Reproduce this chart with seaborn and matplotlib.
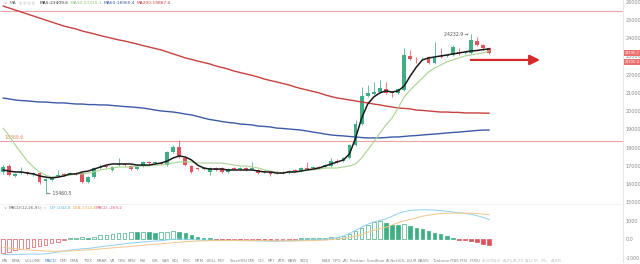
import numpy as np
import pandas as pd
import matplotlib
matplotlib.use("Agg")
import matplotlib.pyplot as plt
import matplotlib.transforms as mtransforms
import seaborn as sns

# ---------------- data ----------------
opens = [16660, 16990, 16440, 16600, 16660, 16550, 16600, 16160, 16220, 16440,
         16550, 16550, 16600, 16600, 16110, 16380, 16880, 16990, 16770, 17040,
         17100, 16990, 16820, 16990, 17210, 17150, 17150, 17040, 17760, 18030,
         17430, 16990, 16880, 16820, 16660, 16880, 16880, 16660, 16880, 16820,
         16880, 16820, 16770, 16710, 16660, 16600, 16660, 16600, 16770, 16710,
         16880, 16880, 16930, 16930, 16990, 17260, 17260, 17430, 18140, 19290,
         20830, 20940, 21050, 21220, 21050, 21000, 21160, 23030, 22920, 22890,
         22970, 22640, 23030, 23030, 23080, 23250, 23190, 23190, 23850, 23630,
         23470]
highs = [17040, 17100, 16600, 16930, 16710, 16660, 16660, 16330, 16440, 16770,
         16600, 16660, 16660, 16660, 16440, 16930, 17100, 17040, 16990, 17430,
         17150, 17040, 16990, 17260, 17260, 17260, 17210, 17810, 18140, 18416,
         17480, 17040, 16930, 16930, 16930, 16930, 16930, 16880, 16930, 16930,
         16930, 17210, 16820, 16770, 16710, 16710, 16710, 16770, 16820, 16930,
         17210, 16990, 16990, 17100, 17430, 17370, 17480, 18200, 19510, 21330,
         21440, 21600, 21710, 21600, 21110, 21270, 23470, 23360, 22970, 22970,
         23030, 23800, 23470, 23140, 23630, 23470, 23300, 24232.9, 24070, 23690,
         23520]
lows = [16550, 16440, 16380, 16550, 16490, 16440, 16000, 15460.5, 16160, 16380,
        16440, 16490, 16520, 16050, 16050, 16330, 16820, 16880, 16710, 16990,
        16990, 16770, 16770, 16930, 17100, 17100, 17040, 16990, 17700, 17430,
        16990, 16600, 16770, 16770, 16490, 16710, 16600, 16600, 16770, 16770,
        16710, 16770, 16550, 16600, 16440, 16550, 16550, 16550, 16660, 16660,
        16770, 16820, 16820, 16880, 16930, 17150, 17210, 17370, 18090, 19240,
        20780, 20890, 21000, 20940, 20780, 20940, 21110, 22810, 22640, 22860,
        22590, 22590, 22920, 22970, 23030, 23080, 23140, 23140, 23580, 23360,
        23140]
closes = [16930, 16490, 16550, 16660, 16600, 16600, 16110, 16270, 16380, 16490,
          16490, 16600, 16560, 16110, 16380, 16880, 16930, 16930, 16930, 17100,
          17040, 16820, 16930, 17210, 17150, 17210, 17100, 17760, 18030, 17480,
          17040, 16660, 16820, 16880, 16880, 16770, 16660, 16820, 16820, 16880,
          16770, 16880, 16600, 16660, 16550, 16660, 16600, 16710, 16710, 16880,
          16820, 16930, 16880, 17040, 17260, 17210, 17430, 18140, 19290, 20830,
          21000, 21050, 21270, 21000, 21000, 21220, 23080, 22860, 22890, 22920,
          22640, 22920, 22970, 23080, 23520, 23190, 23250, 23910, 23630, 23470,
          23190]

ma5 = [16770, 16710, 16660, 16660, 16600, 16550, 16440, 16380, 16330, 16380,
       16440, 16550, 16550, 16660, 16710, 16820, 16930, 17040, 17100, 17100,
       17100, 17100, 17040, 17040, 17040, 17100, 17150, 17260, 17430, 17540,
       17480, 17320, 17040, 16880, 16820, 16820, 16820, 16770, 16770, 16770,
       16770, 16770, 16710, 16660, 16660, 16600, 16600, 16660, 16660, 16710,
       16770, 16820, 16880, 16990, 17100, 17210, 17320, 17650, 18520, 19620,
       20390, 20780, 21000, 21110, 21050, 21110, 21380, 21930, 22420, 22810,
       22920, 22970, 23030, 23080, 23140, 23190, 23250, 23300, 23330, 23380,
       23409.6]
ma10 = [19070, 18640, 18140, 17700, 17260, 16930, 16660, 16490, 16380, 16380,
        16440, 16490, 16550, 16550, 16600, 16660, 16770, 16820, 16880, 16930,
        16930, 16930, 16990, 16990, 16990, 17040, 17040, 17100, 17150, 17210,
        17210, 17210, 17150, 17150, 17150, 17150, 17150, 17100, 17040, 16990,
        16990, 16930, 16880, 16770, 16710, 16660, 16600, 16660, 16660, 16710,
        16770, 16770, 16820, 16880, 16880, 16880, 16930, 16990, 17100, 17430,
        17870, 18310, 18800, 19240, 19620, 20170, 20780, 21160, 21490, 21820,
        22150, 22370, 22530, 22700, 22810, 22920, 23030, 23080, 23140, 23190,
        23315.1]
ma60 = [20720, 20670, 20610, 20580, 20560, 20530, 20500, 20500, 20470, 20450,
        20450, 20420, 20390, 20390, 20360, 20360, 20340, 20340, 20310, 20280,
        20250, 20230, 20200, 20170, 20120, 20060, 20010, 19980, 19950, 19900,
        19840, 19790, 19710, 19620, 19540, 19490, 19430, 19380, 19350, 19290,
        19270, 19240, 19180, 19160, 19130, 19070, 19050, 19020, 18990, 18960,
        18910, 18850, 18800, 18740, 18690, 18660, 18640, 18610, 18580, 18550,
        18530, 18530, 18530, 18550, 18580, 18580, 18610, 18640, 18660, 18690,
        18720, 18740, 18770, 18800, 18830, 18850, 18880, 18910, 18940, 18960,
        18960.4]
ma200 = [25770, 25660, 25550, 25440, 25330, 25220, 25110, 25000, 24890, 24780,
         24670, 24590, 24510, 24400, 24320, 24240, 24150, 24070, 23990, 23910,
         23850, 23770, 23690, 23600, 23520, 23440, 23360, 23250, 23140, 23030,
         22920, 22840, 22750, 22670, 22590, 22480, 22400, 22310, 22200, 22120,
         22040, 21960, 21870, 21760, 21680, 21600, 21520, 21440, 21330, 21240,
         21160, 21080, 21000, 20890, 20800, 20720, 20670, 20610, 20560, 20500,
         20450, 20390, 20340, 20280, 20230, 20170, 20150, 20120, 20060, 20040,
         20010, 19980, 19950, 19950, 19930, 19930, 19900, 19900, 19900, 19890,
         19887.0]

macd_hist = [-760, -700, -620, -550, -480, -420, -370, -310, -230, -140,
             -60, 30, 60, 100, 80, 130, 190, 240, 280, 310,
             340, 370, 360, 380, 370, 350, 360, 400, 420, 380,
             300, 200, 110, 60, 30, -20, -40, -50, -50, -60,
             -60, -50, -60, -70, -80, -70, -60, -50, -30, 20,
             30, 50, 60, 80, 110, 130, 170, 260, 420, 620,
             760, 900, 1000, 880, 780, 760, 800, 700, 600, 520,
             420, 330, 260, 170, 80, -30, -80, -130, -180, -250,
             -300]
dif = [-830, -840, -840, -830, -820, -810, -820, -800, -760, -710,
       -650, -600, -560, -530, -510, -470, -420, -380, -340, -300,
       -260, -220, -190, -160, -130, -110, -90, -50, -10, 0,
       -10, -30, -50, -60, -60, -70, -80, -80, -80, -90,
       -90, -90, -100, -110, -120, -120, -110, -100, -90, -70,
       -60, -40, -30, -10, 20, 80, 160, 300, 460, 640,
       800, 920, 1000, 1080, 1230, 1380, 1480, 1540, 1570, 1580,
       1575, 1560, 1530, 1500, 1460, 1420, 1380, 1340, 1260, 1170,
       1044.8]
dea = [-450, -490, -530, -560, -590, -610, -630, -650, -660, -660,
       -660, -650, -630, -610, -590, -570, -540, -510, -480, -450,
       -430, -400, -370, -340, -310, -280, -260, -230, -200, -170,
       -150, -130, -110, -100, -90, -85, -80, -80, -80, -80,
       -85, -85, -90, -90, -95, -100, -100, -100, -100, -95,
       -90, -80, -70, -60, -30, 0, 40, 90, 150, 240,
       360, 460, 560, 640, 760, 880, 980, 1060, 1150, 1230,
       1290, 1340, 1370, 1390, 1400, 1405, 1400, 1395, 1380, 1350,
       1313.8]

price_ticks = [15000, 16000, 17000, 18000, 19000, 20000, 21000, 22000, 23000, 24000, 25000, 26000]
macd_ticks = [-1000, 0, 1000]
macd_tick_labels = ["-1000", "0.0", "1000"]
level_lines = [25500, 18369.6]
level_label = "18369.6"
tag_prices = [23190.7, 22690.4]
tag_labels = ["23190.7", "22690.4"]
arrow_price = 22810
arrow_from, arrow_to = 76.5, 88.8
high_label = "24232.9 →"
low_label = "← 15460.5"

ma_legend = [("MA5:23409.6", "#333333"), ("MA10:23315.1", "#8cc47a"),
             ("MA60:18960.4", "#3b5ba5"), ("MA200:19887.0", "#cc4040")]
macd_legend = [("DIF:1044.8", "#5ab8d8"), ("DEA:1313.8", "#e8a94a"), ("MACD:-269.2", "#e0607a")]
tabs = ["MA", "EMA", "VOLUME", "MACD", "DMI", "DMA", "TRIX", "BRAR", "VR", "OBV", "EMV", "RSI",
        "WR", "SAR", "KDJ", "ROC", "MTM", "BOLL", "PSY", "StochRSI", "DMI", "CCI", "MFI", "ATR",
        "BBW", "SKDJ", "BIAS", "DPO", "AO", "Position", "Fundflow", "AI-NetVOL", "LSUR", "BASIS",
        "Tvolume", "FTBS", "FTSI", "FTMU", "AI-BOI", "NLR", "ALPS", "AI-ITX", "ALLI", "FR", "PRL", "ALBEI"]
tab_x = [2, 12, 25, 45, 60, 70, 83, 97, 110, 118, 128, 140, 152, 162, 172, 183, 195, 207, 218,
         230, 248, 258, 268, 278, 288, 300, 322, 333, 343, 350, 367, 386, 407, 418, 432, 450,
         460, 470, 482, 493, 503, 513, 525, 534, 541, 551]

# ---------------- style ----------------
sns.set_theme(style="white")
plt.rcParams["font.family"] = ["DejaVu Sans"]

W, H = 640, 264
fig = plt.figure(figsize=(6.4, 2.64), dpi=100)
fig.patch.set_facecolor("white")

GREEN = "#3fae84"
RED = "#e0535d"

idx = np.arange(len(opens))
o = np.array(opens, float); c = np.array(closes, float)
hi = np.array(highs, float); lo = np.array(lows, float)
up = c >= o
cols = np.where(up, GREEN, RED)

ax = fig.add_axes([0, 1 - 203 / H, 623 / W, 203 / H])
ax.set_xlim(-0.5, 102)
ax.set_ylim(14957, 26100)

for lv in level_lines:
    ax.axhline(lv, color="#e9a3a3", lw=0.8, zorder=1)
ax.text(0.2, level_lines[1] + 60, level_label, fontsize=3.3, color="#e0905a", va="bottom", ha="left")

ax.vlines(idx, lo, hi, colors=cols, lw=0.55, zorder=2)
body_bottom = np.minimum(o, c)
body_h = np.maximum(np.abs(c - o), 40)
ax.bar(idx, body_h, bottom=body_bottom, width=0.62, color=cols, lw=0, zorder=3)

ma_df = pd.DataFrame({"i": idx, "ma5": ma5, "ma10": ma10, "ma60": ma60, "ma200": ma200})
sns.lineplot(data=ma_df, x="i", y="ma200", ax=ax, color="#c84040", lw=1.0, zorder=4)
sns.lineplot(data=ma_df, x="i", y="ma60", ax=ax, color="#3b5ba5", lw=1.0, zorder=4)
sns.lineplot(data=ma_df, x="i", y="ma10", ax=ax, color="#a9d38f", lw=0.8, zorder=4)
sns.lineplot(data=ma_df, x="i", y="ma5", ax=ax, color="#1a1a1a", lw=1.1, zorder=5)

ax.annotate("", xy=(arrow_to, arrow_price), xytext=(arrow_from, arrow_price),
            arrowprops=dict(arrowstyle="-|>,head_length=0.5,head_width=0.25", color="#d42a2a", lw=1.6),
            zorder=6)
ax.text(76.6, 24232.9, high_label, fontsize=3.3, color="#555555", ha="right", va="center")
ax.text(7.3, 15460.5, low_label, fontsize=3.3, color="#555555", ha="left", va="center")

ax.yaxis.tick_right()
ax.set_yticks(price_ticks)
ax.set_yticklabels([str(t) for t in price_ticks])
ax.tick_params(axis="y", length=0, pad=2.0, labelsize=3.5, labelcolor="#8a8a8a")
ax.set_xticks([])
ax.set_xlabel(""); ax.set_ylabel("")
for s in ["top", "left", "bottom"]:
    ax.spines[s].set_visible(False)
ax.spines["right"].set_color("#e2e2e2"); ax.spines["right"].set_linewidth(0.6)

trans = mtransforms.blended_transform_factory(ax.transAxes, ax.transData)
for p, lab in zip(tag_prices, tag_labels):
    ax.text(1.002, p, lab, transform=trans, fontsize=2.6, color="white", ha="left", va="center",
            bbox=dict(facecolor="#ee6f6f", edgecolor="none", pad=0.5), zorder=10, clip_on=False)

# ---------------- MACD ----------------
ax2 = fig.add_axes([0, 1 - 262 / H, 623 / W, 58 / H])
ax2.set_xlim(-0.5, 102)
ax2.set_ylim(-1243, 1892)
hv = np.array(macd_hist, float)
prev = np.concatenate([[hv[0] - 1], hv[:-1]])
rising = hv >= prev
edge = np.where(hv >= 0, GREEN, RED)
face = [("white" if r else e) for r, e in zip(rising, edge)]
hh = np.where(np.abs(hv) < 40, np.sign(hv + 1e-9) * 40, hv)
ax2.bar(idx, hh, width=0.6, color=face, edgecolor=edge, lw=0.5, zorder=3)
m_df = pd.DataFrame({"i": idx, "dif": dif, "dea": dea})
sns.lineplot(data=m_df, x="i", y="dif", ax=ax2, color="#8fd0ec", lw=0.7, zorder=4)
sns.lineplot(data=m_df, x="i", y="dea", ax=ax2, color="#f2c68a", lw=0.7, zorder=4)
ax2.yaxis.tick_right()
ax2.set_yticks(macd_ticks)
ax2.set_yticklabels(macd_tick_labels)
ax2.tick_params(axis="y", length=0, pad=2.0, labelsize=3.5, labelcolor="#8a8a8a")
ax2.set_xticks([])
ax2.set_xlabel(""); ax2.set_ylabel("")
for s in ["left", "bottom"]:
    ax2.spines[s].set_visible(False)
ax2.spines["top"].set_color("#eeeeee"); ax2.spines["top"].set_linewidth(0.5)
ax2.spines["right"].set_color("#e2e2e2"); ax2.spines["right"].set_linewidth(0.6)
ax2.patch.set_alpha(0)

# ---------------- legends / texts ----------------
def ftxt(x, y, s, **kw):
    fig.text(x / W, 1 - y / H, s, va="center", ha="left", **kw)

ftxt(3, 3.5, "∨", fontsize=3.0, color="#999999")
ftxt(10, 3.5, "MA", fontsize=3.2, color="#666666")
ftxt(19, 3.5, "◎ ◎ ◎ ◎", fontsize=2.6, color="#bbbbbb")
xs = [40, 71, 104, 137]
for (s, col), x in zip(ma_legend, xs):
    ftxt(x, 3.5, s, fontsize=3.2, color=col)

ftxt(3, 208, "∨", fontsize=3.0, color="#999999")
ftxt(9, 208, "MACD(12,26,9)", fontsize=3.0, color="#666666")
ftxt(39, 208, "◎ ×", fontsize=2.6, color="#bbbbbb")
for (s, col), x in zip(macd_legend, [50, 73, 96]):
    ftxt(x, 208, s, fontsize=3.0, color=col)

for t, x in zip(tabs, tab_x):
    colr = "#4a7fd6" if t == "MACD" else ("#c4c4c4" if x > 480 else "#8a8a8a")
    ftxt(x, 261, t, fontsize=2.9, color=colr)

fig.savefig("out.png", dpi=100, facecolor="white")
